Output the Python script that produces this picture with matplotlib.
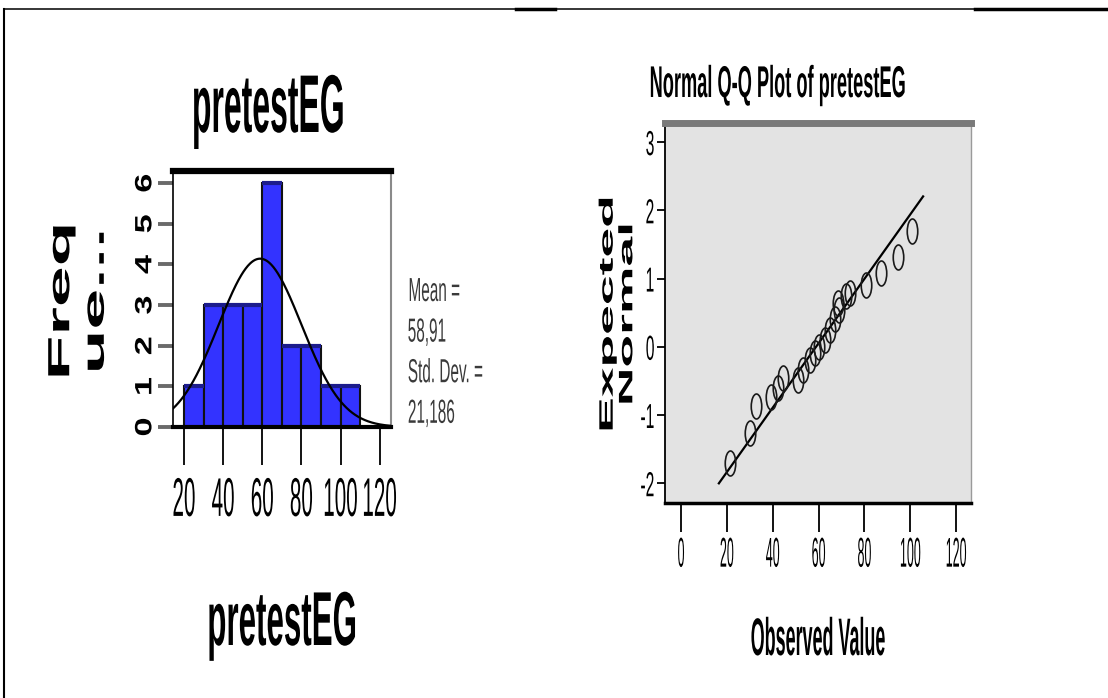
import numpy as np
import matplotlib
matplotlib.use("Agg")
import matplotlib.pyplot as plt
from matplotlib.patheffects import AbstractPathEffect
from matplotlib.transforms import Affine2D
from matplotlib.path import Path
from matplotlib.lines import Line2D

# histogram of pretestEG
bin_edges = [20, 30, 40, 50, 60, 70, 80, 90, 100, 110]
counts = [1, 3, 3, 3, 6, 2, 2, 1, 1]
mean_val = 58.91
sd_val = 21.186
n_cases = 22
stats_lines = ["Mean =", "58,91", "Std. Dev. =", "21,186"]
hist_xticks = [20, 40, 60, 80, 100, 120]
hist_yticks = [0, 1, 2, 3, 4, 5, 6]

# normal Q-Q plot of pretestEG
qq_observed = [21.3, 30.0, 32.6, 39.4, 42.3, 44.5, 51.0, 53.2, 56.1, 58.3, 60.4,
               62.6, 64.8, 67.0, 68.4, 69.1, 72.0, 73.5, 80.7, 87.2, 94.5, 100.7]
qq_expected = [-1.70, -1.26, -0.87, -0.73, -0.60, -0.46, -0.48, -0.34, -0.19, -0.09, 0.00,
               0.10, 0.25, 0.40, 0.64, 0.54, 0.74, 0.79, 0.91, 1.08, 1.32, 1.69]
qq_line_x = [16.5, 105.6]
qq_xticks = [0, 20, 40, 60, 80, 100, 120]
qq_yticks = [-2, -1, 0, 1, 2, 3]

plt.rcParams["font.family"] = ["Liberation Sans", "DejaVu Sans"]
plt.rcParams["axes.unicode_minus"] = False


class Squash(AbstractPathEffect):
    # the source picture is stretched, so the glyphs are scaled around their own ink box
    def __init__(self, sx=1.0, sy=1.0, anchor="center"):
        super().__init__()
        self.sx, self.sy, self.anchor = sx, sy, anchor

    def draw_path(self, renderer, gc, tpath, affine, rgbFace=None):
        ext = affine.transform_path(tpath).get_extents()
        if self.anchor == "left":
            cx = ext.x0
        elif self.anchor == "right":
            cx = ext.x1
        else:
            cx = (ext.x0 + ext.x1) / 2
        cy = (ext.y0 + ext.y1) / 2
        squash = Affine2D().translate(-cx, -cy).scale(self.sx, self.sy).translate(cx, cy)
        renderer.draw_path(gc, tpath, affine + squash, rgbFace)


W, H = 1108, 698
fig = plt.figure(figsize=(W / 100, H / 100), dpi=100)


def fx(x):
    return x / W


def fy(y):
    return 1 - y / H


# ---- histogram ----
ax1 = fig.add_axes([fx(173), fy(427), (391 - 173) / W, (427 - 171) / H])
lefts = np.array(bin_edges[:-1])
rights = np.array(bin_edges[1:])
ax1.bar(lefts, counts, width=rights - lefts, align="edge", color="#3333ff",
        edgecolor="#111111", linewidth=1.5, zorder=2)
ax1.hlines(counts, lefts, rights, color="#1c1c8c", lw=3, zorder=3)
xs = np.linspace(14.4, 125.8, 400)
pdf = np.exp(-0.5 * ((xs - mean_val) / sd_val) ** 2) / (sd_val * np.sqrt(2 * np.pi))
ax1.plot(xs, pdf * n_cases * 10, color="black", lw=1.6, zorder=4)
ax1.set_xlim(14.4, 125.8)
ax1.set_ylim(0, 6.3)
ax1.spines["top"].set_linewidth(4.5)
ax1.spines["left"].set_linewidth(1.2)
ax1.spines["bottom"].set_linewidth(3)
ax1.spines["right"].set_linewidth(1.5)
ax1.spines["right"].set_color("#8a8a8a")
ax1.set_xticks(hist_xticks)
ax1.set_yticks(hist_yticks)
ax1.tick_params(axis="x", length=27, width=1.3, color="black", pad=17.5, labelsize=16)
ax1.tick_params(axis="y", length=11, width=2.8, color="#6a6a6a", pad=1, labelsize=17,
                labelrotation=90)
zero_tick = ax1.yaxis.get_major_ticks()[0]
zero_tick.tick1line.set_color("black")
for lab in ax1.get_xticklabels():
    lab.set_path_effects([Squash(sx=0.93, sy=2.45)])
for lab in ax1.get_yticklabels():
    lab.set_va("center")
    lab.set_fontweight("bold")
    lab.set_path_effects([Squash(sy=1.45)])

fig.text(fx(268.5), fy(132), "pretestEG", ha="center", va="baseline", fontsize=59,
         fontweight="bold", path_effects=[Squash(sx=0.39)])
fig.text(fx(282), fy(645), "pretestEG", ha="center", va="baseline", fontsize=55,
         fontweight="bold", path_effects=[Squash(sx=0.41)])
fig.text(fx(78.5), fy(301), "Freq\nue...", rotation=90, ha="center", va="center",
         fontsize=22, fontweight="bold", linespacing=1.2, path_effects=[Squash(sy=2.4)])
fig.text(fx(407), fy(277), "\n".join(stats_lines), ha="left", va="top", fontsize=24,
         linespacing=1.4, color="#3a3a3a", path_effects=[Squash(sx=0.46, anchor="left")])

# ---- normal Q-Q plot ----
ax2 = fig.add_axes([fx(665), fy(503), (971 - 665) / W, (503 - 123) / H])
ax2.set_facecolor("#e3e3e3")
line_x = np.array(qq_line_x)
ax2.plot(line_x, (line_x - mean_val) / sd_val, color="black", lw=1.6, zorder=2)
ellipse = Affine2D().scale(0.42, 1.0).transform_path(Path.unit_circle())
ax2.plot(qq_observed, qq_expected, ls="none", marker=ellipse, ms=18, mfc="none",
         mec="#1a1a1a", mew=1.2, zorder=3)
ax2.set_xlim(-7, 126.5)
ax2.set_ylim(-2.29, 3.28)
ax2.spines["top"].set_linewidth(5)
ax2.spines["top"].set_color("#7a7a7a")
ax2.spines["left"].set_linewidth(1.3)
ax2.spines["bottom"].set_linewidth(2.5)
ax2.spines["right"].set_linewidth(1)
ax2.spines["right"].set_color("#9a9a9a")
ax2.set_xticks(qq_xticks)
ax2.set_yticks(qq_yticks)
ax2.tick_params(axis="x", length=21, width=1.3, pad=10, labelsize=12)
ax2.tick_params(axis="y", length=6, width=1.3, pad=1, labelsize=25)
for lab in ax2.get_xticklabels():
    lab.set_path_effects([Squash(sx=0.75, sy=2.5)])
for lab in ax2.get_yticklabels():
    lab.set_path_effects([Squash(sx=0.45, anchor="right")])

fig.text(fx(778), fy(97), "Normal Q-Q Plot of pretestEG", ha="center", va="baseline",
         fontsize=32, fontweight="bold", path_effects=[Squash(sx=0.41)])
fig.text(fx(817.5), fy(655), "Observed Value", ha="center", va="baseline", fontsize=38,
         fontweight="bold", path_effects=[Squash(sx=0.34)])
fig.text(fx(618), fy(314), "Expected\nNormal", rotation=90, ha="center", va="center",
         fontsize=14, fontweight="bold", linespacing=1.2, path_effects=[Squash(sy=2.75)])

# outer frame of the screenshot
fig.add_artist(Line2D([fx(4), fx(4)], [fy(9), fy(698)], color="black", lw=1.5,
                      transform=fig.transFigure))
fig.add_artist(Line2D([fx(4), fx(1108)], [fy(9), fy(9)], color="black", lw=1.1,
                      transform=fig.transFigure))
for x0, x1 in [(516, 555), (975, 1108)]:
    fig.add_artist(Line2D([fx(x0), fx(x1)], [fy(9), fy(9)], color="black", lw=2.5,
                          transform=fig.transFigure))

fig.savefig("out.png", dpi=100)
